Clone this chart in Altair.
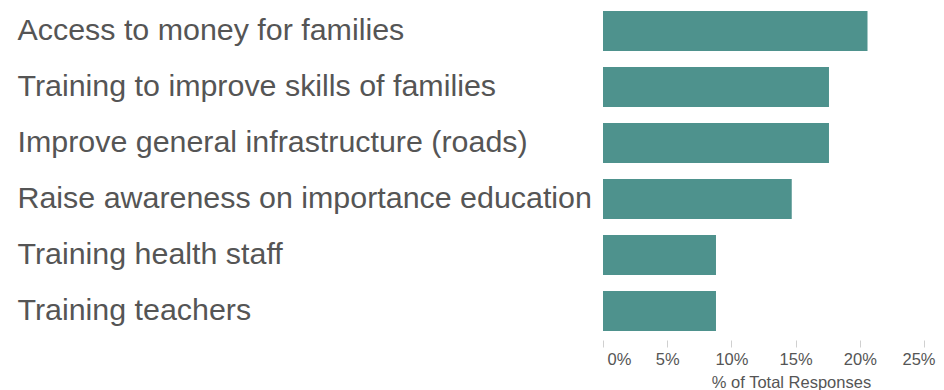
import altair as alt
import pandas as pd

categories = [
    "Access to money for families",
    "Training to improve skills of families",
    "Improve general infrastructure (roads)",
    "Raise awareness on importance education",
    "Training health staff",
    "Training teachers",
]
shares = [0.206, 0.176, 0.176, 0.147, 0.088, 0.088]
tick_values = [0, 0.05, 0.10, 0.15, 0.20, 0.25]

df = pd.DataFrame({"category": categories, "share": shares})

chart = (
    alt.Chart(df)
    .mark_bar(color="#4e928d")
    .encode(
        x=alt.X(
            "share:Q",
            scale=alt.Scale(domain=[0, 0.25], nice=False),
            axis=alt.Axis(
                values=tick_values,
                format=".0%",
                title="% of Total Responses",
                grid=False,
                domain=False,
                offset=6,
                tickSize=7,
                tickColor="#d0d0d0",
                labelFlush=False,
                labelAlign=alt.ExprRef(
                    "datum.value == 0 ? 'left' : (datum.value >= 0.25 ? 'right' : 'center')"
                ),
                labelOffset=alt.ExprRef(
                    "datum.value == 0 ? 4 : (datum.value >= 0.25 ? 11 : 0)"
                ),
                labelFontSize=16.5,
                labelColor="#555555",
                labelFont="Arial",
                labelPadding=4,
                titleFont="Arial",
                titleFontSize=16.5,
                titleFontWeight="normal",
                titleColor="#555555",
                titlePadding=7,
                titleX=188,
                titleAlign="center",
            ),
        ),
        y=alt.Y(
            "category:N",
            sort=categories,
            scale=alt.Scale(paddingInner=0.2857, paddingOuter=0.0536),
            axis=alt.Axis(
                title=None,
                domain=False,
                ticks=False,
                grid=False,
                labelAlign="left",
                labelBaseline="middle",
                labelPadding=586,
                labelLimit=0,
                labelFontSize=30.4,
                labelFont="Arial",
                labelColor="#555555",
            ),
        ),
    )
    .properties(
        width=321,
        height=326,
        autosize=alt.AutoSizeParams(type="none"),
        padding={"left": 595, "top": 0, "right": 12, "bottom": 56},
    )
    .configure_view(stroke=None)
)

chart.save("out.html", embed_options={"renderer": "svg", "actions": False})
